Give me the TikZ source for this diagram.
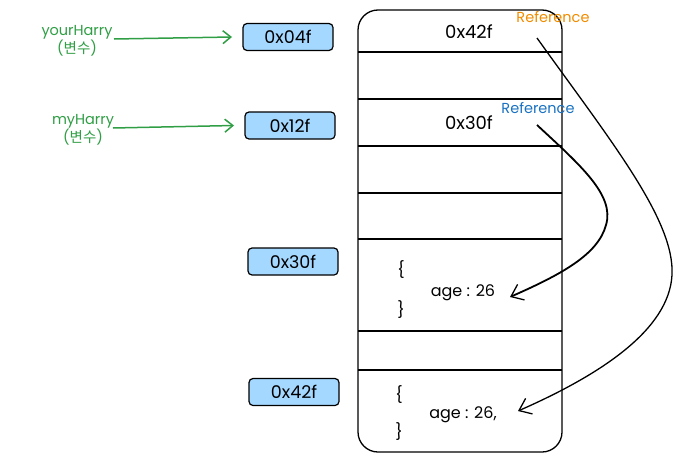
\documentclass[tikz,border=0pt]{standalone}
\usepackage{fontspec}
\setmainfont{Poppins}
\newfontfamily\krfont{Noto Sans CJK KR}
\usetikzlibrary{arrows.meta}
\definecolor{grn}{HTML}{2F9E44}
\definecolor{boxfill}{HTML}{A5D8FF}
\definecolor{orng}{HTML}{F08C00}
\definecolor{blu}{HTML}{1971C2}
\tikzset{
  addrbox/.style={draw=black, line width=1.2pt, fill=boxfill, rounded corners=4pt,
    minimum width=90pt, minimum height=27pt, inner sep=0pt, font=\fontsize{17.5}{19}\selectfont},
  memtext/.style={font=\fontsize{18}{20}\selectfont, inner sep=1pt},
  objtext/.style={font=\fontsize{16}{18}\selectfont, inner sep=1pt},
  varlabel/.style={text=grn, font=\fontsize{14.5}{16}\selectfont, align=center, inner sep=1pt},
  varrow/.style={draw=grn, line width=1.5pt, -{Straight Barb[length=8pt,width=13pt,line width=1.5pt]}},
  refrow/.style={draw=black, line width=1.3pt, -{Straight Barb[length=11pt,width=17pt,line width=1.3pt]}},
  rowline/.style={line width=1.3pt},
  reflabel/.style={font=\fontsize{14.5}{16}\selectfont, inner sep=1pt}
}
\begin{document}
\begin{tikzpicture}[x=1pt,y=-1pt]
\useasboundingbox (0,0) rectangle (680,463);
% memory column
\draw[line width=1.3pt, rounded corners=20pt] (358,10) rectangle (562,452);
\foreach \yy in {52,99,146,193,239,331,370}
  \draw[rowline] (358,\yy) -- (562,\yy);
% memory texts
\node[memtext] (m42) at (469,32) {0x42f};
\node[memtext] (m30) at (469,123) {0x30f};
\node[reflabel, text=orng] (r1) at (553,17) {Reference};
\node[reflabel, text=blu] (r2) at (538,108) {Reference};
% objects
\node[objtext] (ob1) at (401,270) {\{};
\node[objtext] (age1) at (463,293) {age : 26};
\node[objtext] (cb1) at (401,310) {\}};
\node[objtext] (ob2) at (399,395) {\{};
\node[objtext] (age2) at (463,415) {age : 26,};
\node[objtext] (cb2) at (399,432) {\}};
% address boxes
\node[addrbox] (a04) at (288,37) {0x04f};
\node[addrbox] (a12) at (290,125.5) {0x12f};
\node[addrbox] (a30) at (293,261.5) {0x30f};
\node[addrbox] (a42) at (294,392) {0x42f};
% variable labels
\node[varlabel] (your) at (77,41) {yourHarry\\({\krfont 변수})};
\node[varlabel] (my) at (83,130) {myHarry\\({\krfont 변수})};
\coordinate (ys) at (114,39);
\coordinate (ms) at (113,128);
\draw[varrow] (ys) -- (a04.west -| 232,39);
\draw[varrow] (ms) -- (a12.west -| 234,128);
% reference arrows
\coordinate (s1) at (537,125);
\coordinate (e1) at (510,297);
\coordinate (s2) at (537,38);
\coordinate (e2) at (518,411);
\draw[refrow, line width=1.8pt] (s1) .. controls (580,165) and (615,195) .. (606,225)
   .. controls (598,255) and (560,275) .. (e1);
\draw[refrow] (s2) .. controls (610,140) and (675,220) .. (672,275)
   .. controls (669,330) and (600,375) .. (e2);
\end{tikzpicture}
\end{document}
